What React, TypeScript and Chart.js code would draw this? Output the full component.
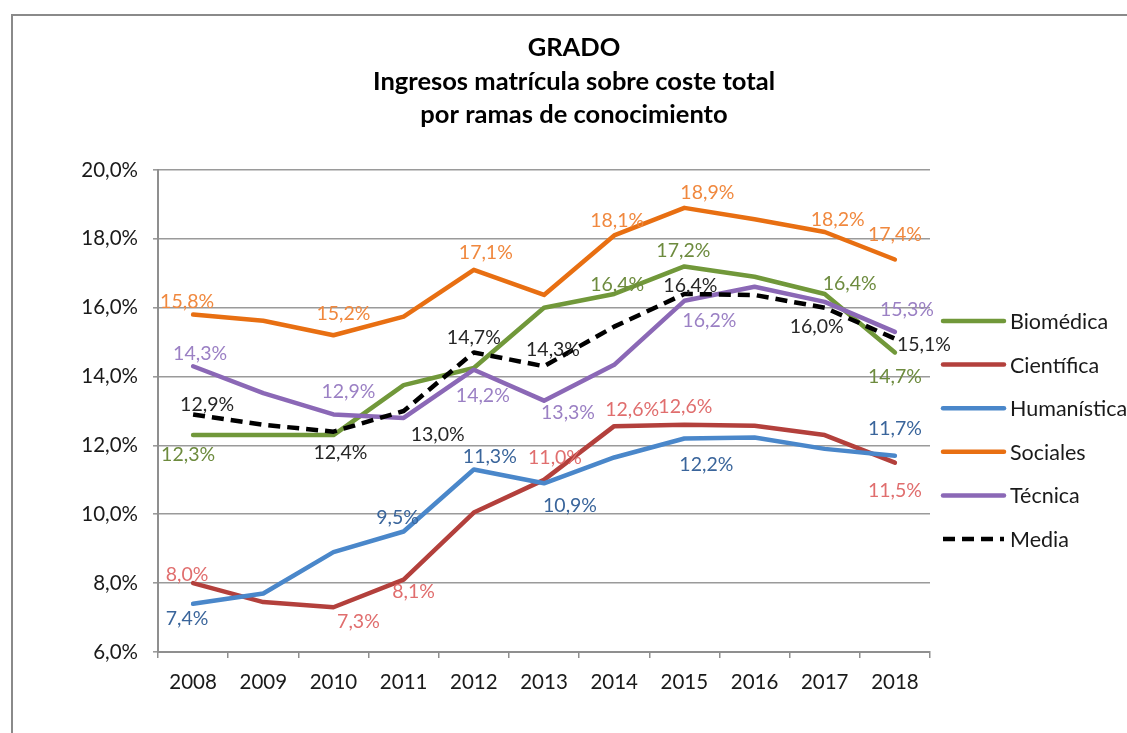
import React, { useEffect, useRef } from 'react';
import { Chart, registerables } from 'chart.js';

Chart.register(...registerables);

// ---------- data ----------
const years = ['2008', '2009', '2010', '2011', '2012', '2013', '2014', '2015', '2016', '2017', '2018'];

const biomedica = [12.3, 12.3, 12.3, 13.75, 14.25, 16.0, 16.4, 17.2, 16.9, 16.4, 14.7];
const cientifica = [8.0, 7.45, 7.3, 8.1, 10.05, 11.0, 12.56, 12.6, 12.57, 12.3, 11.5];
const humanistica = [7.4, 7.7, 8.9, 9.5, 11.3, 10.9, 11.65, 12.2, 12.23, 11.9, 11.7];
const sociales = [15.8, 15.62, 15.2, 15.74, 17.1, 16.37, 18.1, 18.9, 18.57, 18.2, 17.4];
const tecnica = [14.3, 13.52, 12.9, 12.8, 14.2, 13.3, 14.34, 16.2, 16.61, 16.17, 15.3];
const media = [12.9, 12.6, 12.4, 13.0, 14.7, 14.3, 15.45, 16.4, 16.37, 16.0, 15.1];

const seriesNames = ['Biomédica', 'Científica', 'Humanística', 'Sociales', 'Técnica', 'Media'];
const seriesValues = [biomedica, cientifica, humanistica, sociales, tecnica, media];

const yMin = 6;
const yMax = 20;
const yStep = 2;

const titleLines = ['GRADO', 'Ingresos matrícula sobre coste total', 'por ramas de conocimiento'];

// ---------- styles ----------
const FONT = 'Lato, "Open Sans", "Noto Sans", sans-serif';
const lineColors = ['#71983A', '#B3403C', '#4A87CA', '#E86F12', '#8B68B6', '#000000'];
const labelColors = ['#6D8B3E', '#E06E6E', '#3A659B', '#F0883E', '#9B80C4', '#262626'];

// which points carry a value label, and the label's offset (px) from the point
const labelPlacement: Array<Array<[number, number, number]>> = [
  [[0, -5, 20], [6, 3, -9], [7, -1, -16], [9, 25, -10], [10, 0, 24]],
  [[0, -6, -8], [2, 25, 14], [3, 10, 12], [5, 11, -22], [6, 18, -16], [7, 1, -18], [10, 0, 28]],
  [[0, -6, 15], [3, -6, -14], [4, 16, -13], [5, 26, 22], [7, 22, 26], [10, 0, -27]],
  [[0, -6, -13], [2, 10, -22], [4, 12, -17], [6, 3, -15], [7, 23, -15], [9, 13, -12], [10, 0, -25]],
  [[0, 7, -13], [2, 15, -23], [4, 9, 26], [5, 24, 12], [7, 25, 20], [10, 12, -22]],
  [[0, 14, -10], [2, 7, 21], [3, 34, 24], [4, 0, -15], [5, 9, -17], [7, 6, -8], [9, -8, 19], [10, 29, 6]],
];

const fmt = (v: number) => v.toFixed(1).replace('.', ',') + '%';

const overlayPlugin = {
  id: 'overlay',
  afterDatasetsDraw(chart: any) {
    const ctx = chart.ctx as CanvasRenderingContext2D;
    ctx.save();
    ctx.font = `19.5px ${FONT}`;
    ctx.textAlign = 'center';
    ctx.textBaseline = 'middle';
    chart.data.datasets.forEach((ds: any, di: number) => {
      const meta = chart.getDatasetMeta(di);
      ctx.fillStyle = labelColors[di];
      labelPlacement[di].forEach(([i, dx, dy]) => {
        const el = meta.data[i];
        if (!el) return;
        ctx.fillText(fmt(ds.data[i]), el.x + dx, el.y + dy);
      });
    });
    ctx.restore();
  },
  afterDraw(chart: any) {
    const ctx = chart.ctx as CanvasRenderingContext2D;
    ctx.save();
    // title
    ctx.fillStyle = '#000';
    ctx.textAlign = 'center';
    ctx.textBaseline = 'middle';
    ctx.font = `bold 25.5px ${FONT}`;
    titleLines.forEach((t, i) => ctx.fillText(t, 574, 48 + i * 33.5));
    // legend
    const lx = 943;
    const lw = 61;
    const ly0 = 321;
    const lgap = 43.6;
    ctx.textAlign = 'left';
    ctx.font = `21.5px ${FONT}`;
    seriesNames.forEach((name, i) => {
      const y = ly0 + i * lgap;
      ctx.beginPath();
      ctx.strokeStyle = lineColors[i];
      ctx.lineWidth = 4.5;
      ctx.lineCap = i === 5 ? 'butt' : 'round';
      ctx.setLineDash(i === 5 ? [12, 7] : []);
      ctx.moveTo(lx, y);
      ctx.lineTo(lx + lw, y);
      ctx.stroke();
      ctx.setLineDash([]);
      ctx.fillStyle = '#1a1a1a';
      ctx.fillText(name, 1010, y + 1);
    });
    ctx.restore();
  },
};

export default function App() {
  const canvasRef = useRef<HTMLCanvasElement | null>(null);

  useEffect(() => {
    if (!canvasRef.current) return;
    const chart = new Chart(canvasRef.current, {
      type: 'line',
      data: {
        labels: years,
        datasets: seriesNames.map((name, i) => ({
          label: name,
          data: seriesValues[i],
          borderColor: lineColors[i],
          backgroundColor: lineColors[i],
          borderWidth: 4.5,
          borderDash: i === 5 ? [12, 7] : [],
          borderJoinStyle: 'round',
          borderCapStyle: i === 5 ? 'butt' : 'round',
          pointRadius: 0,
          pointHoverRadius: 0,
          tension: 0,
          fill: false,
          order: 5 - i,
        })),
      },
      options: {
        animation: false,
        responsive: false,
        devicePixelRatio: 1,
        layout: { padding: { top: 170, right: 197, left: 0, bottom: 0 } },
        plugins: {
          legend: { display: false },
          title: { display: false },
          tooltip: { enabled: false },
        },
        scales: {
          x: {
            offset: true,
            grid: {
              display: true,
              offset: true,
              drawOnChartArea: false,
              drawTicks: true,
              tickLength: 6,
              color: '#8f8f8f',
              lineWidth: 1.5,
            },
            border: { display: true, color: '#8f8f8f', width: 2 },
            ticks: {
              color: '#1a1a1a',
              font: { family: FONT, size: 20.5 },
              padding: 12,
              maxRotation: 0,
              autoSkip: false,
            },
            afterFit: (s: any) => {
              s.height = 81;
            },
          },
          y: {
            min: yMin,
            max: yMax,
            grid: {
              color: '#9a9a9a',
              lineWidth: 1.6,
              drawTicks: true,
              tickLength: 5,
            },
            border: { display: true, color: '#8f8f8f', width: 2 },
            ticks: {
              stepSize: yStep,
              color: '#1a1a1a',
              font: { family: FONT, size: 20.5 },
              padding: 15,
              callback: (v: any) => fmt(Number(v)),
            },
            afterFit: (s: any) => {
              s.width = 158;
            },
          },
        },
      },
      plugins: [overlayPlugin],
    });
    return () => chart.destroy();
  }, []);

  return (
    <div
      style={{
        position: 'absolute',
        left: 0,
        top: 0,
        width: 1127,
        height: 733,
        overflow: 'hidden',
        background: '#fff',
      }}
    >
      <div
        style={{
          position: 'absolute',
          left: 11,
          top: 14,
          width: 1300,
          height: 900,
          border: '2px solid #8a8a8a',
          boxSizing: 'border-box',
        }}
      />
      <canvas
        ref={canvasRef}
        width={1127}
        height={733}
        style={{ position: 'absolute', left: 0, top: 0, width: 1127, height: 733 }}
      />
    </div>
  );
}
